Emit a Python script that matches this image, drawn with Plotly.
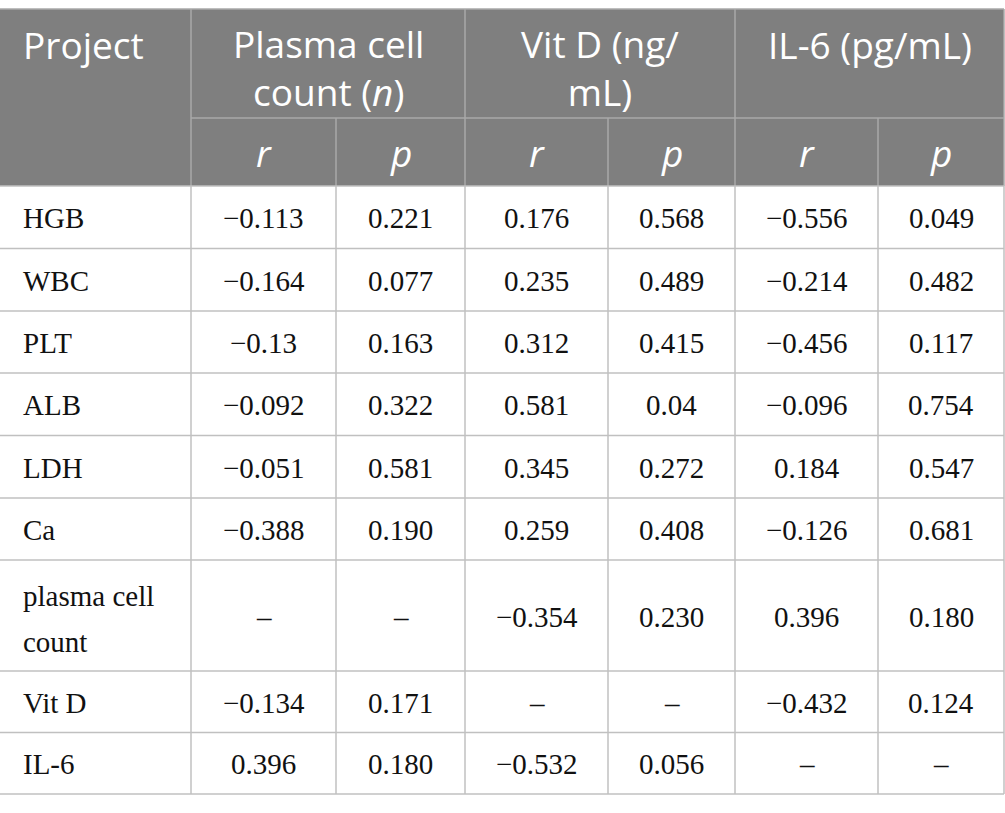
import plotly.graph_objects as go

# ---- data ----
projects = ["HGB", "WBC", "PLT", "ALB", "LDH", "Ca", "plasma cell\ncount", "Vit D", "IL-6"]
plasma_r = ["−0.113", "−0.164", "−0.13", "−0.092", "−0.051", "−0.388", "–", "−0.134", "0.396"]
plasma_p = ["0.221", "0.077", "0.163", "0.322", "0.581", "0.190", "–", "0.171", "0.180"]
vitd_r = ["0.176", "0.235", "0.312", "0.581", "0.345", "0.259", "−0.354", "–", "−0.532"]
vitd_p = ["0.568", "0.489", "0.415", "0.04", "0.272", "0.408", "0.230", "–", "0.056"]
il6_r = ["−0.556", "−0.214", "−0.456", "−0.096", "0.184", "−0.126", "0.396", "−0.432", "–"]
il6_p = ["0.049", "0.482", "0.117", "0.754", "0.547", "0.681", "0.180", "0.124", "–"]
group_headers = ["Plasma cell<br>count (<i>n</i>)", "Vit D (ng/<br>mL)", "IL-6 (pg/mL)"]
first_header = "Project"
sub_headers = ["<i>r</i>", "<i>p</i>"]

# ---- layout geometry (pixels) ----
W, H = 1005, 813
col_x = [0, 191, 336, 465, 608, 735, 878, 1004]
row_y = [9, 118, 186, 248.5, 311, 373, 435.5, 498, 560, 671, 732.5, 794]
HEADER_BG = "#7f7f7f"
HEADER_LINE = "#a8a8a8"
BODY_LINE = "#c0c0c0"
SANS = "Open Sans"
SERIF = "Liberation Serif"
HFS = 37
BFS = 29
BODY_COLOR = "#111111"

fig = go.Figure()
shapes = []
ann = []

# header background
shapes.append(dict(type="rect", xref="x", yref="y", x0=col_x[0], x1=col_x[-1], y0=row_y[0], y1=row_y[2],
                   fillcolor=HEADER_BG, line=dict(width=0), layer="below"))
# header lines
shapes.append(dict(type="line", xref="x", yref="y", x0=col_x[0], x1=col_x[-1], y0=row_y[0], y1=row_y[0],
                   line=dict(color=HEADER_LINE, width=1.5)))
shapes.append(dict(type="line", xref="x", yref="y", x0=col_x[1], x1=col_x[-1], y0=row_y[1], y1=row_y[1],
                   line=dict(color=HEADER_LINE, width=1.5)))
for i in [1, 3, 5]:
    shapes.append(dict(type="line", xref="x", yref="y", x0=col_x[i], x1=col_x[i], y0=row_y[0], y1=row_y[2],
                       line=dict(color=HEADER_LINE, width=1.5)))
for i in [2, 4, 6]:
    shapes.append(dict(type="line", xref="x", yref="y", x0=col_x[i], x1=col_x[i], y0=row_y[1], y1=row_y[2],
                       line=dict(color=HEADER_LINE, width=1.5)))
shapes.append(dict(type="line", xref="x", yref="y", x0=col_x[-1], x1=col_x[-1], y0=row_y[0], y1=row_y[2],
                   line=dict(color=HEADER_LINE, width=1.5)))

# body lines
for yy in row_y[2:]:
    shapes.append(dict(type="line", xref="x", yref="y", x0=col_x[0], x1=col_x[-1], y0=yy, y1=yy,
                       line=dict(color=BODY_LINE, width=1.5)))
for xx in col_x[1:]:
    shapes.append(dict(type="line", xref="x", yref="y", x0=xx, x1=xx, y0=row_y[2], y1=row_y[-1],
                       line=dict(color=BODY_LINE, width=1.5)))

# header text
ann.append(dict(x=col_x[0] + 21, y=44, text=first_header, xanchor="left", yanchor="middle",
                font=dict(family=SANS, size=HFS, color="white")))
for g, txt in enumerate(group_headers):
    cx = (col_x[1 + 2 * g] + col_x[3 + 2 * g]) / 2
    if "<br>" in txt:
        ann.append(dict(x=cx, y=67, text=txt, xanchor="center", yanchor="middle", align="center",
                        font=dict(family=SANS, size=HFS, color="white")))
    else:
        ann.append(dict(x=cx, y=44, text=txt, xanchor="center", yanchor="middle",
                        font=dict(family=SANS, size=HFS, color="white")))
    for s in range(2):
        sx = (col_x[1 + 2 * g + s] + col_x[2 + 2 * g + s]) / 2
        ann.append(dict(x=sx, y=(row_y[1] + row_y[2]) / 2, text=sub_headers[s], xanchor="center",
                        yanchor="middle", font=dict(family=SANS, size=HFS, color="white")))

# body text
columns = [plasma_r, plasma_p, vitd_r, vitd_p, il6_r, il6_p]
for r, name in enumerate(projects):
    y0, y1 = row_y[2 + r], row_y[3 + r]
    cy = (y0 + y1) / 2 + 1
    lines = name.split("\n")
    for li, line in enumerate(lines):
        ly = cy + 2 + (li - (len(lines) - 1) / 2) * 46
        ann.append(dict(x=col_x[0] + 21, y=ly if len(lines) > 1 else cy, text=line, xanchor="left",
                        yanchor="middle", font=dict(family=SERIF, size=BFS, color=BODY_COLOR)))
    for c, col in enumerate(columns):
        cx = (col_x[1 + c] + col_x[2 + c]) / 2
        ann.append(dict(x=cx, y=cy, text=col[r], xanchor="center", yanchor="middle",
                        font=dict(family=SERIF, size=BFS, color=BODY_COLOR)))

for a in ann:
    a.update(xref="x", yref="y", showarrow=False)

fig.update_layout(
    width=W, height=H, margin=dict(l=0, r=0, t=0, b=0),
    paper_bgcolor="white", plot_bgcolor="white",
    xaxis=dict(range=[0, W], visible=False, fixedrange=True),
    yaxis=dict(range=[H, 0], visible=False, fixedrange=True),
    shapes=shapes, annotations=ann, showlegend=False,
)
fig.write_html("out.html", config={"displayModeBar": False},
               post_script="document.body.style.margin='0';document.body.style.overflow='hidden';")
